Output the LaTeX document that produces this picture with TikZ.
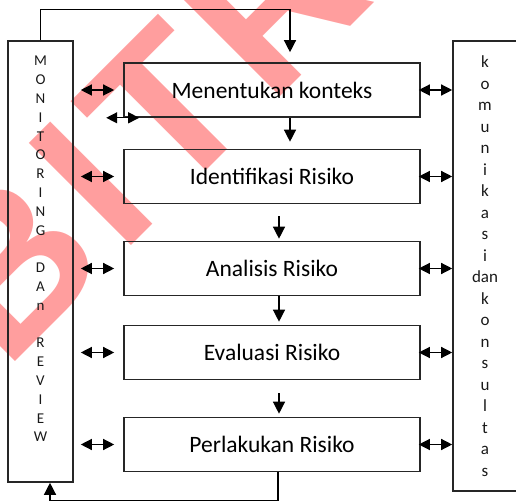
\documentclass[tikz,border=0pt]{standalone}
\usepackage{fontspec}
\setmainfont{Carlito}
\newfontfamily\markfont[LetterSpace=6]{Liberation Sans}
\usetikzlibrary{arrows.meta, calc}

\begin{document}
\begin{tikzpicture}[x=1pt, y=-1pt,
		stepbox/.style={draw=black!85, line width=1.6pt, minimum width=296pt, minimum height=54pt, inner sep=0pt, font=\fontsize{23.5}{26}\selectfont},
		sidebox/.style={draw=black!85, line width=1.6pt, inner sep=0pt, align=center},
		flow/.style={line width=1.3pt, -{Triangle[length=12pt, width=12pt]}},
		both/.style={line width=1.3pt, {Triangle[length=11pt, width=11pt]}-{Triangle[length=11pt, width=11pt]}}]
	\useasboundingbox (0,0) rectangle (516,502);
	\clip (0,0) rectangle (516,502);
	
	% Watermark in the background
	\node[rotate=45, text=red, opacity=0.38, anchor=base west, inner sep=0pt,
		font=\markfont\bfseries\fontsize{210}{210}\selectfont] (mark) at (5,372) {BITR};
	
	% Side columns
	\node[sidebox, minimum width=65pt, minimum height=441pt] (monitor) at (40.5,261.5) {};
	\node[align=center, text=black!90, font=\fontsize{15}{18.8}\selectfont] (monlabel) at (40.5,249)
	{M\\O\\N\\I\\T\\O\\R\\I\\N\\G\\~\\D\\A\\n\\~\\R\\E\\V\\I\\E\\W};
	\node[sidebox, minimum width=64pt, minimum height=450pt, text=black!90, font=\fontsize{17}{21.5}\selectfont] (konsultasi) at (485,266)
	{k\\o\\m\\u\\n\\i\\k\\a\\s\\i\\dan\\k\\o\\n\\s\\u\\l\\t\\a\\s};
	
	% Process steps
	\node[stepbox] (konteks) at (272,90) {Menentukan konteks};
	\node[stepbox] (identifikasi) at (272,176.5) {Identifikasi Risiko};
	\node[stepbox] (analisis) at (272,268.5) {Analisis Risiko};
	\node[stepbox] (evaluasi) at (272,352.5) {Evaluasi Risiko};
	\node[stepbox] (perlakuan) at (272,444.5) {Perlakukan Risiko};
	
	% Flow down the steps
	\coordinate (ktop) at ([xshift=18pt, yshift=10pt]konteks.north);
	\draw[flow] (monitor.north) |- ([yshift=43pt]ktop) -- (ktop);
	\draw[flow] ([xshift=18pt]konteks.south) -- ([xshift=18pt, yshift=7pt]identifikasi.north);
	\draw[flow] ([xshift=7pt, yshift=-12pt]identifikasi.south) -- ([xshift=7pt, yshift=2pt]analisis.north);
	\draw[flow] ([xshift=7pt]analisis.south) -- ([xshift=7pt, yshift=3pt]evaluasi.north);
	\draw[flow] ([xshift=7pt, yshift=-13pt]evaluasi.south) -- ([xshift=7pt, yshift=3pt]perlakuan.north);
	
	% Back to monitoring
	\coordinate (mbot) at ([xshift=9.5pt]monitor.south);
	\draw[flow] ([xshift=6pt]perlakuan.south) |- ([yshift=-18pt]mbot) -- (mbot);
	
	% Links to both columns
	\foreach \b in {konteks, identifikasi, analisis, evaluasi, perlakuan}{
		\draw[both] ($(monitor.east |- \b.west)+(7,0)$) -- ($(\b.west)+(-9,0)$);
		\draw[both] ($(\b.east)+(-2,0)$) -- (konsultasi.west |- \b.east);
	}
	\coordinate (kl) at ($(konteks.south west)+(-17,0)$);
	\coordinate (kr) at ($(konteks.south west)+(16,0)$);
	\draw[both] (kl) -- (kr);
\end{tikzpicture}
\end{document}
